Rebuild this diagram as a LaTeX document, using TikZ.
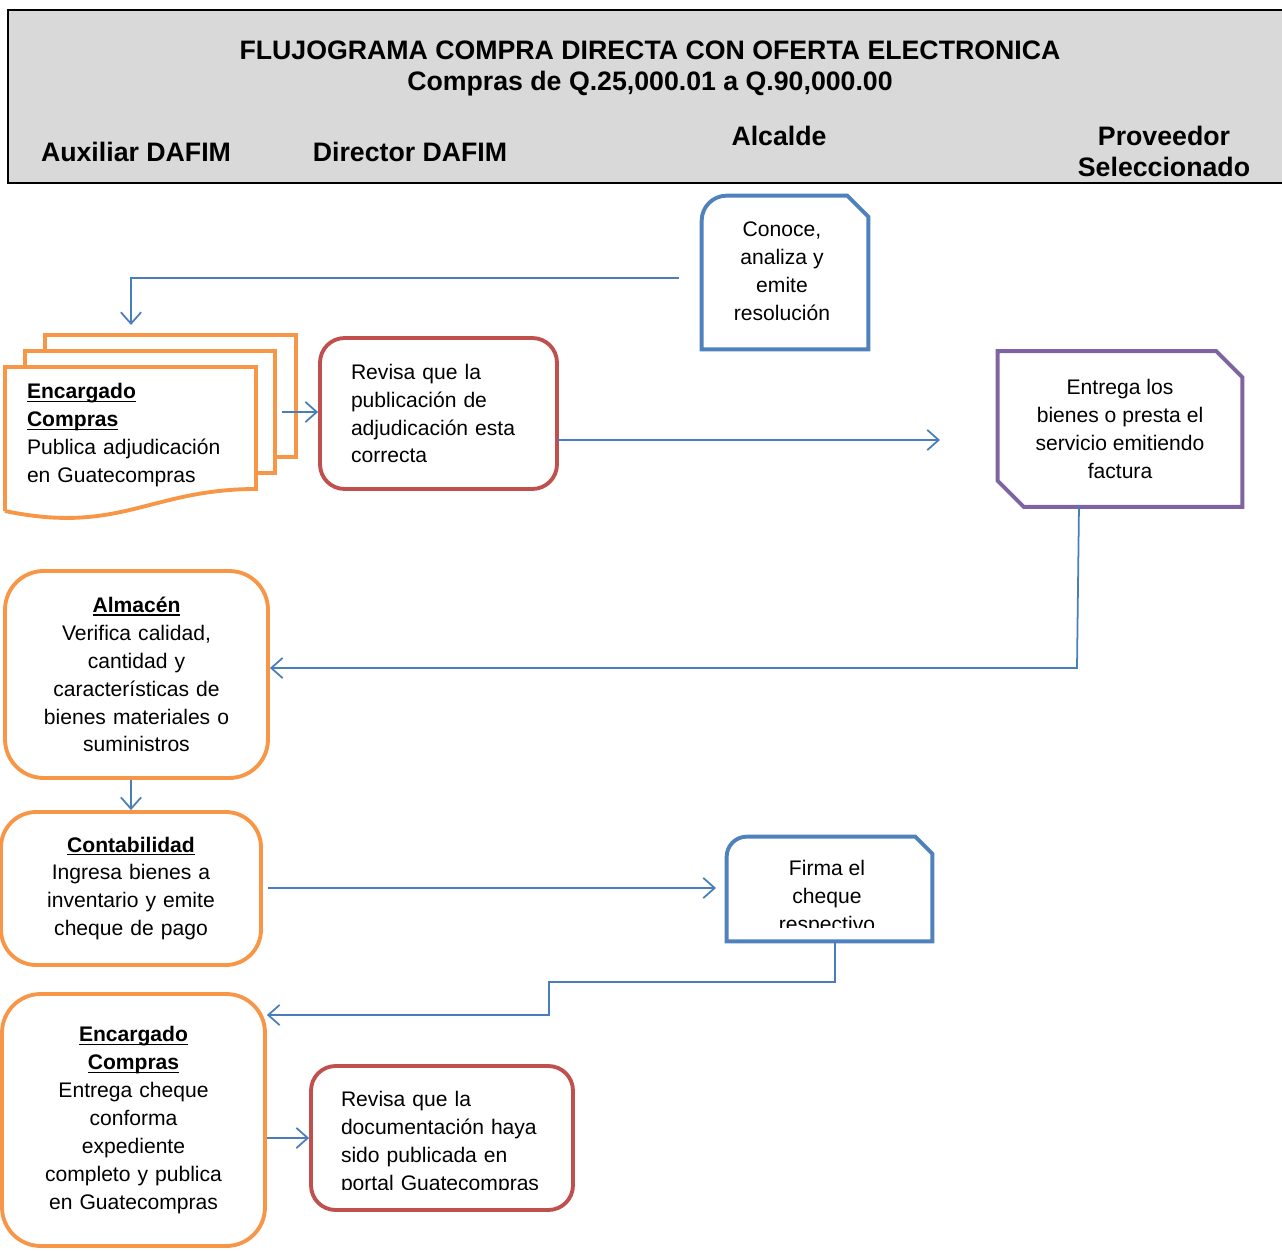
\documentclass[tikz,border=0pt]{standalone}
\usepackage{fontspec}
\setmainfont{Liberation Sans}
\usetikzlibrary{arrows.meta}

\definecolor{naranja}{HTML}{F79646}
\definecolor{rojo}{HTML}{C0504D}
\definecolor{azul}{HTML}{4F81BD}
\definecolor{morado}{HTML}{8064A2}
\definecolor{linea}{HTML}{4A7EBB}
\definecolor{gris}{HTML}{D9D9D9}

\newcommand{\txt}{\fontsize{12}{15.9}\selectfont}
\newcommand{\cab}{\fontsize{15.2}{17.6}\selectfont\bfseries}
\newsavebox{\jefebox}
\newcommand{\jefe}[1]{\sbox{\jefebox}{\textbf{#1}}\usebox{\jefebox}\llap{\rule[-1.9pt]{\wd\jefebox}{0.75pt}}}

\tikzset{
  caja/.style={draw, line width=2.2pt, inner sep=0pt, font=\txt, align=center},
  forma/.style={inner sep=0pt, font=\txt, align=center},
  flecha/.style={draw=linea, line width=1pt, ->},
}

\begin{document}
\begin{tikzpicture}[x=0.02cm, y=-0.02cm, >={Straight Barb[length=6.5pt,width=11.5pt]}]

\useasboundingbox (0,0) rectangle (1282,1251);

% encabezado
\fill[gris] (8,10) rectangle (1282,183);
\draw[line width=1.2pt] (1282,10) -- (8,10) -- (8,183) -- (1282,183);
\node[font=\cab, align=center] (titulo) at (650,68.5) {FLUJOGRAMA COMPRA DIRECTA CON OFERTA ELECTRONICA\\Compras de Q.25,000.01 a Q.90,000.00};
\node[font=\cab] (aux) at (136,152) {Auxiliar DAFIM};
\node[font=\cab] (dir) at (410,152) {Director DAFIM};
\node[font=\cab] (alc) at (779,136) {Alcalde};
\node[font=\cab, align=center] (prov) at (1164,151.5) {Proveedor\\Seleccionado};

% Alcalde
\node[forma, minimum width=3.32cm, minimum height=3.06cm] (conoce) at (785,272.5) {};
\draw[azul, line width=2.2pt] (conoce.south west) -- ([yshift=-0.5cm]conoce.north west)
  arc[start angle=180, end angle=90, radius=0.5cm] -- ([xshift=-0.42cm]conoce.north east)
  -- ([yshift=-0.42cm]conoce.north east) -- (conoce.south east) -- cycle;
\node[forma] (conocetxt) at (782,271.5) {Conoce,\\analiza y\\emite\\resolución};

% documentos
\draw[naranja, line width=2.2pt, fill=white] (45,335) rectangle (296,457);
\draw[naranja, line width=2.2pt, fill=white] (25,351) rectangle (275,473);
\draw[naranja, line width=2.2pt, fill=white] (5,511) -- (5,367) -- (256,367) -- (256,489)
  .. controls (150,489) and (120,535) .. (5,511);
\node[forma, text width=4.14cm, align=left] (publica) at (130.5,435) {\jefe{Encargado}\\\jefe{Compras}\\Publica adjudicación\\en Guatecompras};

% Director DAFIM
\node[caja, draw=rojo, rounded corners=14pt, minimum width=4.74cm, minimum height=3.02cm, text width=3.5cm, align=left] (revisa) at (438.5,413.5) {Revisa que la\\publicación de\\adjudicación esta\\correcta};

% Proveedor
\node[forma, minimum width=4.88cm, minimum height=3.1cm] (entrega) at (1120,429) {Entrega los\\bienes o presta el\\servicio emitiendo\\factura};
\draw[morado, line width=2.2pt] (entrega.north west) -- ([xshift=-0.52cm]entrega.north east)
  -- ([yshift=-0.52cm]entrega.north east) -- (entrega.south east)
  -- ([xshift=0.52cm]entrega.south west) -- ([yshift=0.52cm]entrega.south west) -- cycle;

% Almacen, Contabilidad
\node[caja, draw=naranja, rounded corners=22pt, minimum width=5.26cm, minimum height=4.14cm, text width=4.6cm] (almacen) at (136.5,674.5) {\jefe{Almacén}\\Verifica calidad,\\cantidad y\\características de\\bienes materiales o\\suministros};
\node[caja, draw=naranja, rounded corners=20pt, minimum width=5.2cm, minimum height=3.06cm, text width=4.6cm] (conta) at (131,888.5) {\jefe{Contabilidad}\\Ingresa bienes a\\inventario y emite\\cheque de pago};

% Alcalde firma
\node[forma, minimum width=4.1cm, minimum height=2.08cm] (firma) at (829.5,889) {};
\draw[azul, line width=2.2pt] (firma.south west) -- ([yshift=-0.4cm]firma.north west)
  arc[start angle=180, end angle=90, radius=0.4cm] -- ([xshift=-0.34cm]firma.north east)
  -- ([yshift=-0.34cm]firma.north east) -- (firma.south east) -- cycle;
\begin{scope}
  \clip (727,837) rectangle (932,927);
  \node[forma] (firmatxt) at (827,898) {Firma el\\cheque\\respectivo};
\end{scope}

% cierre
\node[caja, draw=naranja, rounded corners=22pt, minimum width=5.26cm, minimum height=5.04cm, text width=4.8cm] (encargado) at (133.5,1120) {\jefe{Encargado}\\\jefe{Compras}\\Entrega cheque\\conforma\\expediente\\completo y publica\\en Guatecompras};
\node[caja, draw=rojo, rounded corners=14pt, minimum width=5.24cm, minimum height=2.88cm] (revisados) at (442,1138) {};
\begin{scope}
  \clip (311,1066) rectangle (573,1189);
  \node[forma, text width=4.04cm, align=left] (revisadostxt) at (442,1143) {Revisa que la\\documentación haya\\sido publicada en\\portal Guatecompras};
\end{scope}

% conectores
\coordinate (c1) at (679,278);
\coordinate (c2) at (131,325);
\draw[flecha] (c1) -| (c2);

\coordinate (p1) at (282,412);
\draw[flecha] (p1) -- (p1 -| revisa.west);

\coordinate (r1) at (557,440);
\coordinate (r2) at (940,440);
\draw[flecha] (r1) -- (r2);

\coordinate (e1) at (1079,505);
\coordinate (e2) at (1077,668);
\draw[flecha] (e1) -- (e2) -- (e2 -| almacen.east);

\draw[flecha] (almacen.south -| conta.north) -- (conta.north);

\coordinate (k1) at (268,888);
\coordinate (k2) at (716,888);
\draw[flecha] (k1) -- (k2);

\coordinate (f1) at (835,941);
\coordinate (f2) at (549,982);
\coordinate (f3) at (549,1015);
\draw[flecha] (f1) |- (f2) -- (f3) -- (f3 -| encargado.east);

\draw[flecha] (encargado.east |- revisados.west) -- (revisados.west);

\end{tikzpicture}
\end{document}
